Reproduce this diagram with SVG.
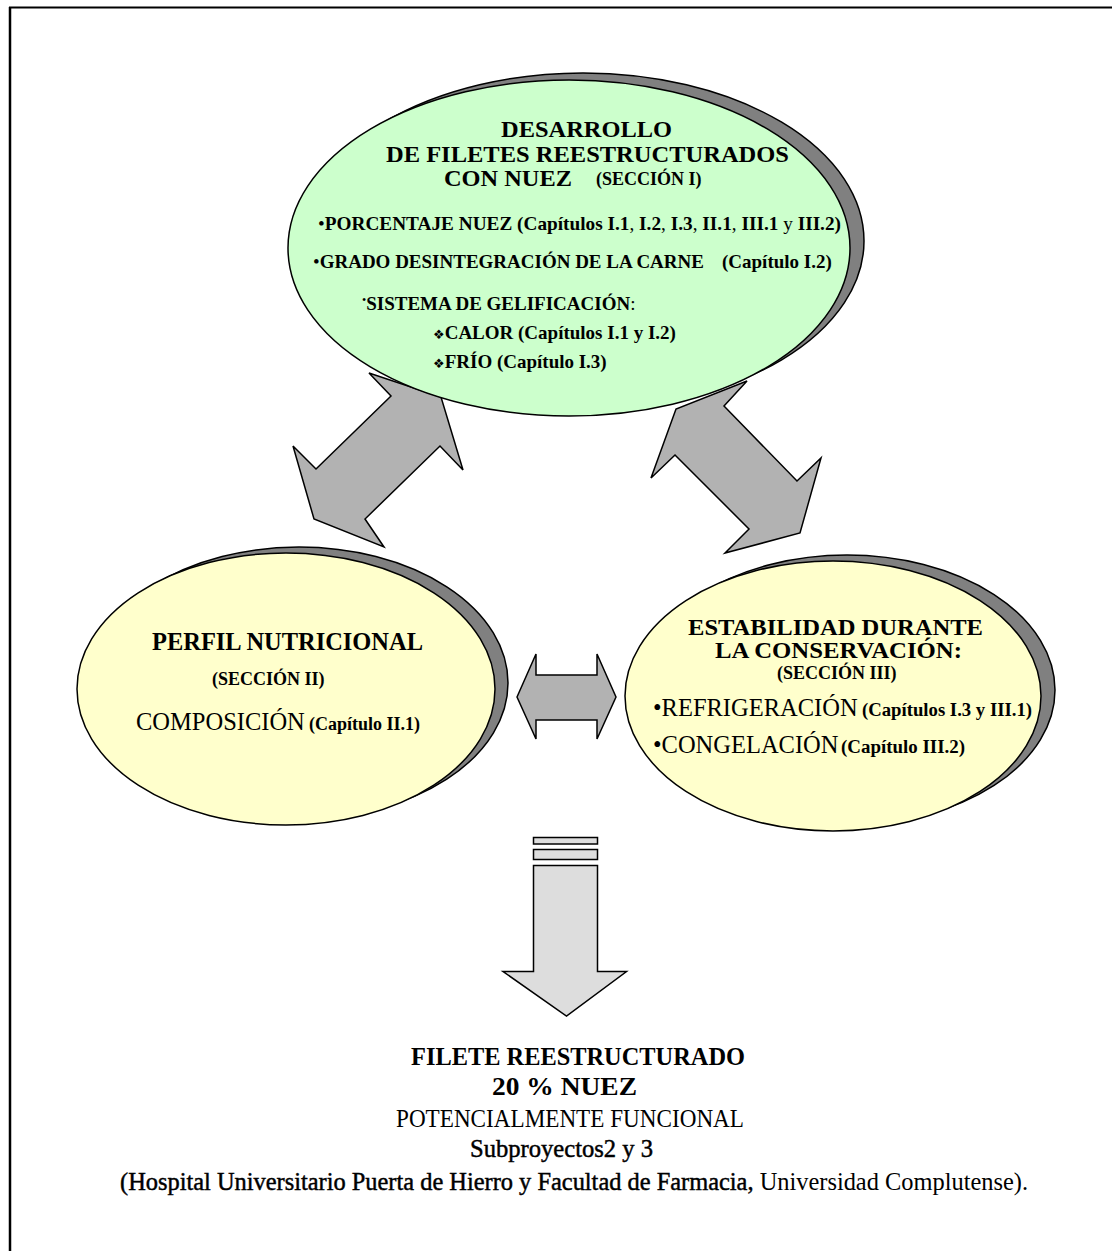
<svg xmlns="http://www.w3.org/2000/svg" width="1112" height="1251" viewBox="0 0 1112 1251">
<style>
text{font-family:"Liberation Serif","Times New Roman",serif;fill:#000}
.b{font-weight:bold}
.n{font-weight:normal}
.med{stroke:#000;stroke-width:0.45}
.shadow{fill:#808080;stroke:#000;stroke-width:1.5}
.green{fill:#ccffcc;stroke:#000;stroke-width:1.5}
.yellow{fill:#ffffcc;stroke:#000;stroke-width:1.5}
.arr{fill:#b2b2b2;stroke:#000;stroke-width:1.5;stroke-linejoin:miter}
.arrl{fill:#dddddd;stroke:#000;stroke-width:1.5}
.sym{font-family:"DejaVu Sans",sans-serif}
</style>
<rect width="1112" height="1251" fill="#fff"/>
<g id="frame">
<line x1="9" y1="7.5" x2="1112" y2="7.5" stroke="#000" stroke-width="2"/>
<line x1="10" y1="7" x2="10" y2="1251" stroke="#000" stroke-width="2.5"/>
</g>
<g id="connectors">
<polygon class="arr" points="369,373 441,397 463,470 440,446 365,519 384,547 314,519 293,446 316,469 391,396"/>
<polygon class="arr" points="747,381 724,406 797,481 821,458 800,533 725,553 749,529 675,455 651,478 676,409"/>
<polygon class="arr" points="517,697 536,654 536,675 597,675 597,654 616,697 597,739 597,720 536,720 536,739"/>
<g id="down-arrow">
<rect class="arrl" x="533.5" y="837.5" width="64" height="6.5"/>
<rect class="arrl" x="533.5" y="849.5" width="64" height="10"/>
<polygon class="arrl" points="533.5,865.5 597.5,865.5 597.5,971.5 626.5,971.5 566.5,1016 503,971.5 533.5,971.5"/>
</g>
</g>
<g id="node-desarrollo">
<ellipse class="shadow" cx="583" cy="241" rx="281" ry="168"/>
<ellipse class="green" cx="569" cy="248" rx="281" ry="168"/>
<text class="b" font-size="23" x="501" y="137" textLength="171" lengthAdjust="spacingAndGlyphs">DESARROLLO</text>
<text class="b" font-size="23" x="386" y="161.5" textLength="403" lengthAdjust="spacingAndGlyphs">DE FILETES REESTRUCTURADOS</text>
<text class="b" font-size="23" x="444" y="186" textLength="128" lengthAdjust="spacingAndGlyphs">CON NUEZ</text>
<text class="b" font-size="18" x="596" y="185">(SECCIÓN I)</text>
<text class="b" font-size="19" x="318" y="230" textLength="523" lengthAdjust="spacingAndGlyphs"><tspan class="n">•</tspan>PORCENTAJE NUEZ  (Capítulos I.1<tspan class="n">, </tspan>I.2<tspan class="n">, </tspan>I.3<tspan class="n">, </tspan>II.1<tspan class="n">, </tspan>III.1 <tspan class="n">y</tspan> III.2)</text>
<text class="b" font-size="19" x="313" y="268"><tspan class="n">•</tspan>GRADO DESINTEGRACIÓN DE LA CARNE</text>
<text class="b" font-size="19" x="722" y="268">(Capítulo I.2)</text>
<text class="b" font-size="19" x="362" y="310"><tspan class="n" font-size="12" dy="-6">•</tspan><tspan dy="6">SISTEMA DE GELIFICACIÓN</tspan><tspan class="n">:</tspan></text>
<text class="b" font-size="19" x="433" y="339"><tspan class="sym" font-size="13">❖</tspan>CALOR  (Capítulos I.1 y I.2)</text>
<text class="b" font-size="19" x="433" y="368"><tspan class="sym" font-size="13">❖</tspan>FRÍO  (Capítulo I.3)</text>
</g>
<g id="node-perfil">
<ellipse class="shadow" cx="299" cy="683" rx="209" ry="136"/>
<ellipse class="yellow" cx="286" cy="689" rx="209" ry="136"/>
<text class="b" font-size="24.5" x="152" y="650" textLength="271" lengthAdjust="spacingAndGlyphs">PERFIL NUTRICIONAL</text>
<text class="b" font-size="18" x="212" y="685">(SECCIÓN II)</text>
<text font-size="24.5" x="136" y="730">COMPOSICIÓN</text>
<text class="b" font-size="18" x="309" y="730">(Capítulo II.1)</text>
</g>
<g id="node-estabilidad">
<ellipse class="shadow" cx="847" cy="690" rx="208" ry="135"/>
<ellipse class="yellow" cx="833" cy="696" rx="208" ry="135"/>
<text class="b" font-size="22.5" x="688" y="635" textLength="295" lengthAdjust="spacingAndGlyphs">ESTABILIDAD DURANTE</text>
<text class="b" font-size="22.5" x="715" y="658" textLength="247" lengthAdjust="spacingAndGlyphs">LA CONSERVACIÓN:</text>
<text class="b" font-size="18" x="777" y="679">(SECCIÓN III)</text>
<text font-size="24.5" x="653" y="716">•REFRIGERACIÓN</text>
<text class="b" font-size="18" x="862" y="716" textLength="170" lengthAdjust="spacingAndGlyphs">(Capítulos I.3 y III.1)</text>
<text font-size="24.5" x="653" y="753">•CONGELACIÓN</text>
<text class="b" font-size="18" x="841" y="753" textLength="124" lengthAdjust="spacingAndGlyphs">(Capítulo III.2)</text>
</g>
<g id="node-resultado">
<text class="b" font-size="24.5" x="411" y="1065" textLength="334" lengthAdjust="spacingAndGlyphs">FILETE REESTRUCTURADO</text>
<text class="b" font-size="24.5" x="492" y="1095" textLength="145" lengthAdjust="spacingAndGlyphs">20 % NUEZ</text>
<text font-size="24.5" x="396" y="1127" textLength="348" lengthAdjust="spacingAndGlyphs">POTENCIALMENTE FUNCIONAL</text>
<text class="med" font-size="24.5" x="470" y="1157" textLength="183" lengthAdjust="spacingAndGlyphs">Subproyectos2 y 3</text>
<text font-size="24.5" x="120" y="1190" textLength="908" lengthAdjust="spacingAndGlyphs"><tspan class="med">(Hospital Universitario Puerta de Hierro y Facultad de Farmacia,</tspan> Universidad Complutense).</text>
</g>
</svg>
